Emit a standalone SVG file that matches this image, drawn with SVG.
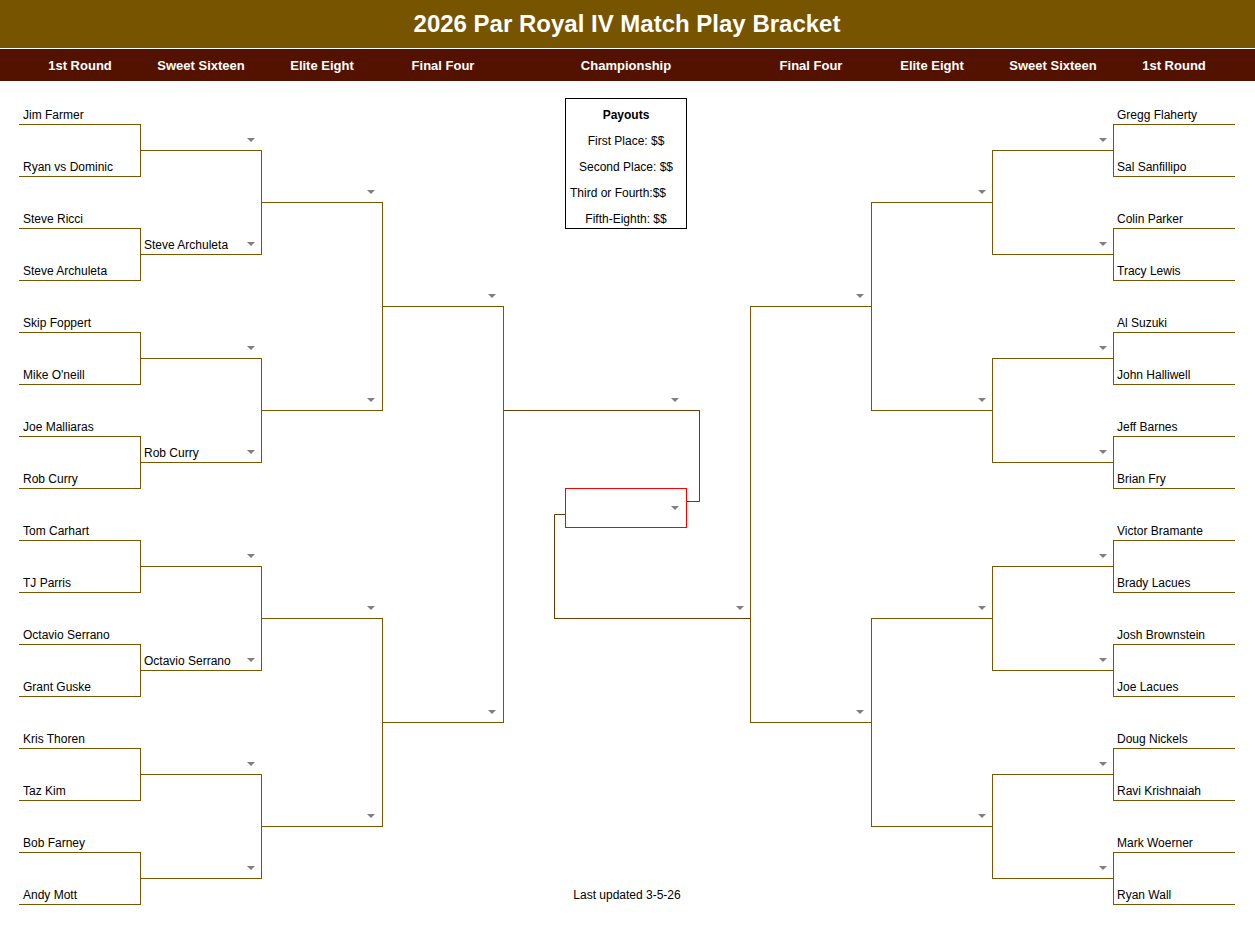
<svg xmlns="http://www.w3.org/2000/svg" xmlns:xlink="http://www.w3.org/1999/xlink" width="1255" height="925" viewBox="0 0 1255 925">
<style>
.t{font-family:"Liberation Sans",Arial,sans-serif;font-size:12px;fill:#000}
.hd{font-family:"Liberation Sans",Arial,sans-serif;font-size:13px;font-weight:bold;fill:#fff;text-anchor:middle}
.ttl{font-family:"Liberation Sans",Arial,sans-serif;font-size:24px;font-weight:bold;fill:#fff;text-anchor:middle}
.ln{stroke:#7a5600;stroke-width:1;fill:none}
.cl{stroke:#6b3a06;stroke-width:1;fill:none}
.c{text-anchor:middle}
</style>
<defs>
<path id="tri" d="M-4,-2 L4,-2 L0,2 Z" fill="#7f7f7f"/>
</defs>
<rect width="1255" height="925" fill="#fff"/>
<g id="header">
<rect x="0" y="0" width="1255" height="48" fill="#765400"/>
<rect x="0" y="49" width="1255" height="32" fill="#531200"/>
<text class="ttl" x="627" y="32">2026 Par Royal IV Match Play Bracket</text>
<text class="hd" x="80" y="70">1st Round</text>
<text class="hd" x="201" y="70">Sweet Sixteen</text>
<text class="hd" x="322" y="70">Elite Eight</text>
<text class="hd" x="443" y="70">Final Four</text>
<text class="hd" x="626" y="70">Championship</text>
<text class="hd" x="811" y="70">Final Four</text>
<text class="hd" x="932" y="70">Elite Eight</text>
<text class="hd" x="1053" y="70">Sweet Sixteen</text>
<text class="hd" x="1174" y="70">1st Round</text>
</g>
<g id="left-round1">
<path class="ln" d="M19,124.5H141M19,176.5H141M19,228.5H141M19,280.5H141M19,332.5H141M19,384.5H141M19,436.5H141M19,488.5H141M19,540.5H141M19,592.5H141M19,644.5H141M19,696.5H141M19,748.5H141M19,800.5H141M19,852.5H141M19,904.5H141"/>
<text class="t" x="23" y="119">Jim Farmer</text>
<text class="t" x="23" y="171">Ryan vs Dominic</text>
<text class="t" x="23" y="223">Steve Ricci</text>
<text class="t" x="23" y="275">Steve Archuleta</text>
<text class="t" x="23" y="327">Skip Foppert</text>
<text class="t" x="23" y="379">Mike O'neill</text>
<text class="t" x="23" y="431">Joe Malliaras</text>
<text class="t" x="23" y="483">Rob Curry</text>
<text class="t" x="23" y="535">Tom Carhart</text>
<text class="t" x="23" y="587">TJ Parris</text>
<text class="t" x="23" y="639">Octavio Serrano</text>
<text class="t" x="23" y="691">Grant Guske</text>
<text class="t" x="23" y="743">Kris Thoren</text>
<text class="t" x="23" y="795">Taz Kim</text>
<text class="t" x="23" y="847">Bob Farney</text>
<text class="t" x="23" y="899">Andy Mott</text>
</g>
<g id="left-sweet16">
<path class="ln" d="M140,150.5H262M140,254.5H262M140,358.5H262M140,462.5H262M140,566.5H262M140,670.5H262M140,774.5H262M140,878.5H262"/>
<text class="t" x="144" y="249">Steve Archuleta</text>
<text class="t" x="144" y="457">Rob Curry</text>
<text class="t" x="144" y="665">Octavio Serrano</text>
<use href="#tri" x="251" y="140"/><use href="#tri" x="251" y="244"/><use href="#tri" x="251" y="348"/><use href="#tri" x="251" y="452"/>
<use href="#tri" x="251" y="556"/><use href="#tri" x="251" y="660"/><use href="#tri" x="251" y="764"/><use href="#tri" x="251" y="868"/>
</g>
<g id="left-elite8">
<path class="ln" d="M261,202.5H383M261,410.5H383M261,618.5H383M261,826.5H383"/>
<use href="#tri" x="371" y="192"/><use href="#tri" x="371" y="400"/><use href="#tri" x="371" y="608"/><use href="#tri" x="371" y="816"/>
</g>
<g id="left-final4">
<path class="ln" d="M382,306.5H504M382,722.5H504"/>
<use href="#tri" x="492" y="296"/><use href="#tri" x="492" y="712"/>
</g>
<g id="championship">
<path class="cl" d="M503,410.5H700"/>
<use href="#tri" x="675" y="400"/>
<rect x="565.5" y="488.5" width="121" height="39" fill="#fff" stroke="#ff0000"/>
<use href="#tri" x="675" y="508"/>
<path class="cl" d="M554,618.5H751"/>
<use href="#tri" x="740" y="608"/>
</g>
<g id="right-final4">
<path class="ln" d="M750,306.5H872M750,722.5H872"/>
<use href="#tri" x="860" y="296"/><use href="#tri" x="860" y="712"/>
</g>
<g id="right-elite8">
<path class="ln" d="M871,202.5H993M871,410.5H993M871,618.5H993M871,826.5H993"/>
<use href="#tri" x="982" y="192"/><use href="#tri" x="982" y="400"/><use href="#tri" x="982" y="608"/><use href="#tri" x="982" y="816"/>
</g>
<g id="right-sweet16">
<path class="ln" d="M992,150.5H1114M992,254.5H1114M992,358.5H1114M992,462.5H1114M992,566.5H1114M992,670.5H1114M992,774.5H1114M992,878.5H1114"/>
<use href="#tri" x="1103" y="140"/><use href="#tri" x="1103" y="244"/><use href="#tri" x="1103" y="348"/><use href="#tri" x="1103" y="452"/>
<use href="#tri" x="1103" y="556"/><use href="#tri" x="1103" y="660"/><use href="#tri" x="1103" y="764"/><use href="#tri" x="1103" y="868"/>
</g>
<g id="right-round1">
<path class="ln" d="M1113,124.5H1235M1113,176.5H1235M1113,228.5H1235M1113,280.5H1235M1113,332.5H1235M1113,384.5H1235M1113,436.5H1235M1113,488.5H1235M1113,540.5H1235M1113,592.5H1235M1113,644.5H1235M1113,696.5H1235M1113,748.5H1235M1113,800.5H1235M1113,852.5H1235M1113,904.5H1235"/>
<text class="t" x="1117" y="119">Gregg Flaherty</text>
<text class="t" x="1117" y="171">Sal Sanfillipo</text>
<text class="t" x="1117" y="223">Colin Parker</text>
<text class="t" x="1117" y="275">Tracy Lewis</text>
<text class="t" x="1117" y="327">Al Suzuki</text>
<text class="t" x="1117" y="379">John Halliwell</text>
<text class="t" x="1117" y="431">Jeff Barnes</text>
<text class="t" x="1117" y="483">Brian Fry</text>
<text class="t" x="1117" y="535">Victor Bramante</text>
<text class="t" x="1117" y="587">Brady Lacues</text>
<text class="t" x="1117" y="639">Josh Brownstein</text>
<text class="t" x="1117" y="691">Joe Lacues</text>
<text class="t" x="1117" y="743">Doug Nickels</text>
<text class="t" x="1117" y="795">Ravi Krishnaiah</text>
<text class="t" x="1117" y="847">Mark Woerner</text>
<text class="t" x="1117" y="899">Ryan Wall</text>
</g>
<g id="payouts">
<rect x="565.5" y="98.5" width="121" height="130" fill="#fff" stroke="#000"/>
<text class="t c" x="626" y="119" font-weight="bold">Payouts</text>
<text class="t c" x="626" y="145">First Place: $$</text>
<text class="t c" x="626" y="171">Second Place: $$</text>
<text class="t" x="570" y="197">Third or Fourth:$$</text>
<text class="t c" x="626" y="223">Fifth-Eighth: $$</text>
</g>
<g id="footer">
<text class="t c" x="627" y="899">Last updated 3-5-26</text>
</g>
<g id="connectors">
<path class="ln" d="M140.5,124V177M140.5,228V281M140.5,332V385M140.5,436V489M140.5,540V593M140.5,644V697M140.5,748V801M140.5,852V905"/>
<path class="ln" d="M261.5,150V255M261.5,358V463M261.5,566V671M261.5,774V879"/>
<path class="ln" d="M382.5,202V411M382.5,618V827"/>
<path class="ln" d="M503.5,306V723"/>
<path class="cl" d="M699.5,410V501.5H687"/>
<path class="cl" d="M565,514.5H554.5V619"/>
<path class="ln" d="M750.5,306V723"/>
<path class="ln" d="M871.5,202V411M871.5,618V827"/>
<path class="ln" d="M992.5,150V255M992.5,358V463M992.5,566V671M992.5,774V879"/>
<path class="ln" d="M1113.5,124V177M1113.5,228V281M1113.5,332V385M1113.5,436V489M1113.5,540V593M1113.5,644V697M1113.5,748V801M1113.5,852V905"/>
</g>
</svg>
